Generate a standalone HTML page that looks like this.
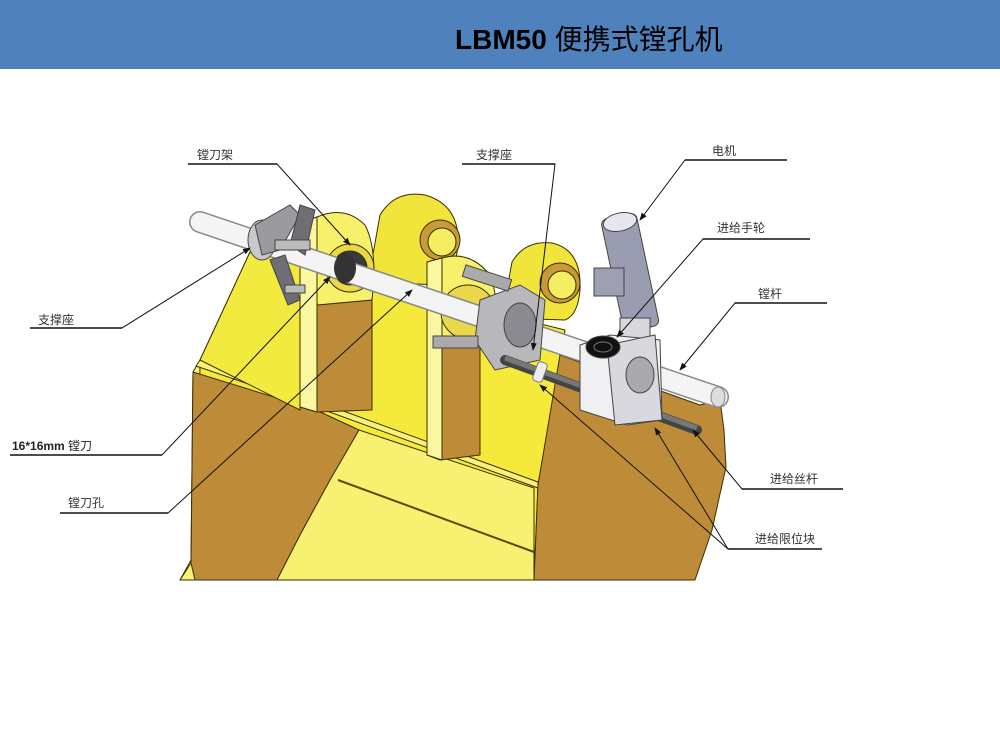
<!DOCTYPE html>
<html><head><meta charset="utf-8"><style>
html,body{margin:0;padding:0;background:#fff;width:1000px;height:750px;overflow:hidden}
.hdr{position:absolute;left:0;top:0;width:1000px;height:69px;background:#4f81bd}
.title{position:absolute;left:455px;top:18px;font:bold 28px "Liberation Sans","Noto Sans CJK SC",sans-serif;color:#000;white-space:nowrap}
svg{position:absolute;left:0;top:0}
text{font-family:"Liberation Sans","Noto Sans CJK SC",sans-serif;font-size:12px;fill:#333}
</style></head><body>
<div class="hdr"></div>
<div class="title">LBM50 <span style="font-weight:normal">便携式镗孔机</span></div>
<svg width="1000" height="750" viewBox="0 0 1000 750">
<defs>
<marker id="a" markerWidth="8" markerHeight="8" refX="7" refY="4" orient="auto" markerUnits="userSpaceOnUse"><path d="M0,1 L8,4 L0,7z" fill="#111"/></marker>
</defs>
<g stroke="#3a3000" stroke-width="1" stroke-linejoin="round">
<polygon points="200,360 250,252 565,330 560,360 538,485 534,580 180,580 191,560" fill="#f5ea3c"/>
<polygon points="180,580 191,563 193,372 200,360 198,580" fill="#f7f07a"/>
<polygon points="193,372 316,410 359,430 330,480 300,535 277,580 195,580 191,563" fill="#be8c38"/>
<polygon points="200,360 324,404 538,482 538,488 324,410 196,366" fill="#f8f27a"/>
<polygon points="359,430 534,488 534,580 277,580 300,535 330,480" fill="#f7f070"/>
<line x1="338" y1="480" x2="534" y2="552" stroke="#5a4a00" stroke-width="2"/>
<polygon points="560,355 700,405 720,400 724,430 726,467 712,530 695,580 534,580 538,485" fill="#be8c38"/>
<polygon points="200,360 250,252 300,240 300,410" fill="#f3ea40"/>
<path d="M372,260 L380,215 Q395,190 425,195 Q460,205 458,245 Q455,275 440,285 L372,282z" fill="#f1e43a"/>
<circle cx="440" cy="240" r="20" fill="#c89a3a"/><circle cx="442" cy="242" r="14" fill="#f5ee60"/>
<path d="M505,300 L512,262 Q525,240 552,243 Q582,250 580,290 Q578,315 565,320 L505,318z" fill="#f1e43a"/>
<circle cx="560" cy="283" r="20" fill="#c89a3a"/><circle cx="562" cy="285" r="14" fill="#f5ee60"/>
<polygon points="317,305 372,300 372,410 317,412" fill="#be8c38"/>
<path d="M300,223 L317,217 Q345,205 365,225 Q378,250 372,300 L317,305 L317,412 L300,407z" fill="#f7f06a"/>
<polygon points="300,223 317,217 317,412 300,407" fill="#fbf6a0"/>
<circle cx="350" cy="268" r="24" fill="#e8d84a"/><circle cx="350" cy="268" r="17" fill="#3a3a3a"/>
<polygon points="440,340 480,340 480,455 440,460" fill="#be8c38"/>
<path d="M427,262 L442,258 Q470,250 490,275 Q500,300 495,345 L440,345 L440,460 L427,455z" fill="#f7f06a"/>
<polygon points="427,262 442,258 442,460 427,455" fill="#fbf6a0"/>
<circle cx="468" cy="312" r="27" fill="#e8d84a"/>
</g>
<line x1="200" y1="222" x2="718" y2="397" stroke="#888" stroke-width="22" stroke-linecap="round"/>
<line x1="200" y1="222" x2="718" y2="397" stroke="#f4f4f4" stroke-width="19" stroke-linecap="round"/>
<ellipse cx="718" cy="397" rx="7" ry="10" fill="#ddd" stroke="#888"/>
<ellipse cx="345" cy="268" rx="11" ry="15" fill="#333"/>
<g fill="#9a9aa0" stroke="#444" stroke-width="1">
<ellipse cx="262" cy="240" rx="14" ry="20" fill="#c8c8cc"/>
<polygon points="255,225 290,205 300,215 280,250 262,255" />
<polygon points="270,260 285,255 300,300 288,305" fill="#6e6e74"/>
<polygon points="300,205 315,210 305,255 290,245" fill="#6e6e74"/>
<rect x="275" y="240" width="35" height="10" fill="#bbb"/>
<rect x="285" y="285" width="20" height="8" fill="#bbb"/>
</g>
<g stroke="#444" stroke-width="1">
<polygon points="480,300 520,285 545,300 540,360 495,370 475,340" fill="#b8b8bc"/>
<ellipse cx="520" cy="325" rx="16" ry="22" fill="#8a8a90"/>
<rect x="433" y="336" width="45" height="12" fill="#aaa"/>
<rect x="463" y="272" width="48" height="12" fill="#aaa" transform="rotate(18 487 278)"/>
</g>
<line x1="505" y1="360" x2="697" y2="430" stroke="#444" stroke-width="10" stroke-linecap="round"/>
<line x1="505" y1="358" x2="697" y2="428" stroke="#777" stroke-width="5"/>
<rect x="535" y="362" width="10" height="20" rx="3" fill="#eee" stroke="#777" transform="rotate(20 540 372)"/>
<rect x="648" y="400" width="10" height="20" rx="3" fill="#eee" stroke="#777" transform="rotate(20 653 410)"/>
<g stroke="#444" stroke-width="1">
<rect x="612" y="215" width="36" height="115" rx="6" fill="#9a9db2" transform="rotate(-12 630 272)"/>
<ellipse cx="620" cy="222" rx="17" ry="9" fill="#e6e6ee" transform="rotate(-12 620 222)"/>
<rect x="594" y="268" width="30" height="28" fill="#9da0b2"/>
<rect x="620" y="318" width="30" height="20" fill="#d8d8dc"/>
<polygon points="580,345 610,335 660,340 662,420 627,425 580,410" fill="#f0f0f2"/>
<polygon points="607,345 655,335 662,420 615,425" fill="#d8d8de"/>
<ellipse cx="640" cy="375" rx="14" ry="18" fill="#a9a9b0"/>
<ellipse cx="603" cy="347" rx="17" ry="11" fill="#111"/>
<ellipse cx="603" cy="347" rx="9" ry="5" fill="none" stroke="#777"/>
</g>
<g stroke="#111" stroke-width="1" fill="none">
<polyline points="188,164 277,164 350,245" marker-end="url(#a)"/>
<polyline points="30,328 122,328 250,248" marker-end="url(#a)"/>
<polyline points="10,455 162,455 330,277" marker-end="url(#a)"/>
<polyline points="60,513 168,513 412,290" marker-end="url(#a)"/>
<polyline points="462,164 555,164 533,350" marker-end="url(#a)"/>
<polyline points="787,160 685,160 640,220" marker-end="url(#a)"/>
<polyline points="810,239 703,239 617,337" marker-end="url(#a)"/>
<polyline points="827,303 735,303 680,370" marker-end="url(#a)"/>
<polyline points="843,489 742,489 693,430" marker-end="url(#a)"/>
<polyline points="822,549 728,549 540,385" marker-end="url(#a)"/>
<polyline points="728,549 655,428" marker-end="url(#a)"/>
</g>
<g stroke="#111" stroke-width="1.6">
<line x1="188" y1="164" x2="277" y2="164"/><line x1="30" y1="328" x2="122" y2="328"/>
<line x1="10" y1="455" x2="162" y2="455"/><line x1="60" y1="513" x2="168" y2="513"/>
<line x1="462" y1="164" x2="555" y2="164"/><line x1="685" y1="160" x2="787" y2="160"/>
<line x1="703" y1="239" x2="810" y2="239"/><line x1="735" y1="303" x2="827" y2="303"/>
<line x1="742" y1="489" x2="843" y2="489"/><line x1="728" y1="549" x2="822" y2="549"/>
</g>
<text x="197" y="159">镗刀架</text>
<text x="476" y="159">支撑座</text>
<text x="38" y="324">支撑座</text>
<text x="12" y="450" style="font-weight:bold;fill:#222">16*16mm <tspan style="font-weight:normal">镗刀</tspan></text>
<text x="68" y="507">镗刀孔</text>
<text x="712" y="155">电机</text>
<text x="717" y="232">进给手轮</text>
<text x="758" y="298">镗杆</text>
<text x="770" y="483">进给丝杆</text>
<text x="755" y="543">进给限位块</text>
</svg>
</body></html>
